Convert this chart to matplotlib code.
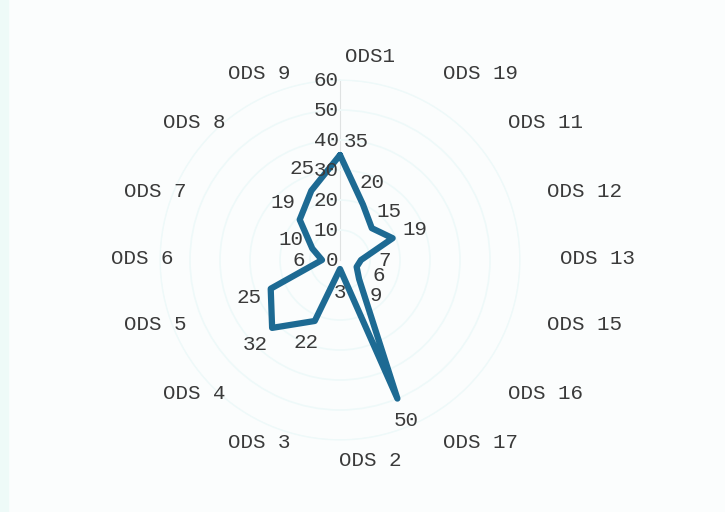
import numpy as np
import matplotlib.pyplot as plt

# datos (sentido horario desde arriba)
categorias = ['ODS1', 'ODS 19', 'ODS 11', 'ODS 12', 'ODS 13', 'ODS 15', 'ODS 16', 'ODS 17',
              'ODS 2', 'ODS 3', 'ODS 4', 'ODS 5', 'ODS 6', 'ODS 7', 'ODS 8', 'ODS 9']
valores = [35, 20, 15, 19, 7, 6, 9, 50, 3, 22, 32, 25, 6, 10, 19, 25]
ticks_r = [0, 10, 20, 30, 40, 50, 60]

plt.rcParams['font.family'] = ['Liberation Mono', 'DejaVu Sans Mono']

W, H = 725, 512
fig = plt.figure(figsize=(W / 100, H / 100), dpi=100, facecolor='#fbfdfd')
fig.patches.append(plt.Rectangle((0, 0), 8 / W, 1, transform=fig.transFigure,
                                 color='#eefaf8', zorder=0))

cx, cy, R = 340, 260, 180  # centro y radio del radar en pixeles
ax = fig.add_axes([(cx - R) / W, (H - cy - R) / H, 2 * R / W, 2 * R / H], projection='polar')
ax.set_theta_zero_location('N')
ax.set_theta_direction(-1)
ax.set_facecolor('none')

ang = np.linspace(0, 2 * np.pi, len(categorias), endpoint=False)
ax.plot(np.append(ang, ang[0]), valores + [valores[0]], color='#1d6a93', lw=4.5,
        solid_joinstyle='round', solid_capstyle='round', zorder=3)

ax.set_ylim(0, 60)
ax.set_yticks(ticks_r[1:])
ax.set_yticklabels([])
ax.yaxis.grid(True, color='#eef9f9', lw=1.2)
ax.set_xticks([0])
ax.set_xticklabels([''])
ax.xaxis.grid(True, color='#dfe2e2', lw=0.8)
ax.spines['polar'].set_color('#eef9f9')

txt = '#3a3a3a'
# etiquetas del eje radial
for r in ticks_r:
    ax.annotate(str(r), (0, r), xytext=(-1, 0), textcoords='offset points',
                ha='right', va='center', fontsize=15, color=txt, zorder=4)

# etiquetas de datos
for t, v in zip(ang, valores):
    off = (12, 10) if t == 0 else (17 * np.sin(t), 17 * np.cos(t))
    ax.annotate(str(v), (t, v), xytext=off, textcoords='offset points',
                ha='center', va='center', fontsize=15, color=txt, zorder=4)

# etiquetas de categorias
for t, lab in zip(ang, categorias):
    s, c = np.sin(t), np.cos(t)
    x = 370 + 228 * np.sign(s) * abs(s) ** 0.75
    y = 258 - 202 * np.sign(c) * abs(c) ** 1.15
    fig.text(x / W, 1 - y / H, lab, ha='center', va='center', fontsize=15, color=txt)

fig.savefig('out.png', dpi=100, facecolor=fig.get_facecolor())
